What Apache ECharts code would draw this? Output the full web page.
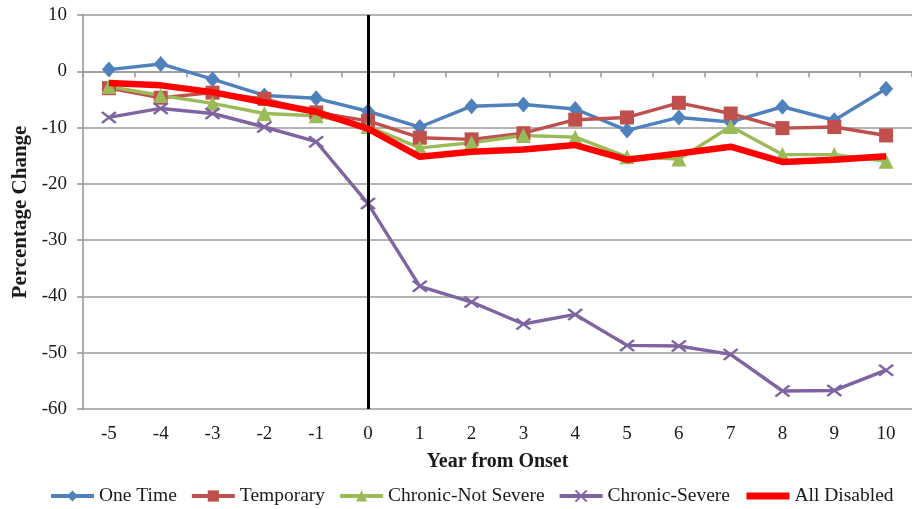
<!DOCTYPE html>
<html>
<head>
<meta charset="utf-8">
<script src="https://cdn.jsdelivr.net/npm/echarts@6/dist/echarts.min.js"></script>
<style>
  html, body { margin: 0; padding: 0; background: #fff; }
  #chart { width: 912px; height: 509px; }
</style>
</head>
<body>
<div id="chart"></div>
<script>
// Years relative to disability onset
const years = ['-5', '-4', '-3', '-2', '-1', '0', '1', '2', '3', '4', '5', '6', '7', '8', '9', '10'];

// Percentage change by disability type
const oneTime        = [0.3, 1.3, -1.4, -4.3, -4.8, -7.1, -9.9, -6.2, -5.9, -6.7, -10.5, -8.2, -9.0, -6.3, -8.7, -3.1];
const temporary      = [-3.0, -4.7, -3.8, -4.9, -7.3, -8.8, -11.8, -12.1, -11.0, -8.6, -8.2, -5.6, -7.5, -10.1, -9.9, -11.4];
const chronicNotSev  = [-2.7, -4.3, -5.7, -7.5, -7.9, -9.8, -13.6, -12.7, -11.4, -11.7, -15.2, -15.6, -9.8, -14.8, -14.8, -16.0];
const chronicSevere  = [-8.2, -6.6, -7.5, -9.9, -12.5, -23.5, -38.2, -41.0, -44.9, -43.2, -48.7, -48.8, -50.3, -56.8, -56.7, -53.1];
const allDisabled    = [-2.1, -2.5, -3.7, -5.5, -7.2, -10.2, -15.2, -14.3, -13.9, -13.1, -15.7, -14.6, -13.4, -16.1, -15.7, -15.1];

const seriesNames = ['One Time', 'Temporary', 'Chronic-Not Severe', 'Chronic-Severe', 'All Disabled'];
const onsetYear = '0';

const FONT = '"Liberation Serif", "Times New Roman", serif';
const GRID_GRAY = '#9a9a9a';

const crossPath = 'path://M0,0L10,8M10,0L0,8';

function lineSeries(name, data, color, symbol, size, extra) {
  return Object.assign({
    name: name,
    type: 'line',
    data: data,
    symbol: symbol,
    symbolSize: size,
    lineStyle: { color: color, width: 3.4 },
    itemStyle: { color: color },
    emphasis: { disabled: true }
  }, extra || {});
}

const chart = echarts.init(document.getElementById('chart'), null, { renderer: 'canvas' });

chart.setOption({
  animation: false,
  backgroundColor: '#fff',
  grid: { left: 83, right: -6, top: 15, bottom: 100, containLabel: false },
  xAxis: [
    {
      type: 'category',
      data: years,
      position: 'bottom',
      boundaryGap: true,
      axisLine: { show: false, onZero: false },
      axisTick: { show: false },
      axisLabel: { fontFamily: FONT, fontSize: 19, color: '#1a1a1a', margin: 16, interval: 0 },
      name: 'Year from Onset',
      nameLocation: 'middle',
      nameGap: 43,
      nameTextStyle: { fontFamily: FONT, fontSize: 20, fontWeight: 'bold', color: '#1a1a1a' }
    },
    {
      type: 'category',
      data: years,
      position: 'bottom',
      boundaryGap: true,
      axisLine: { show: true, onZero: true, lineStyle: { color: GRID_GRAY, width: 1.6 } },
      axisTick: { show: true, length: 6, interval: 0, lineStyle: { color: GRID_GRAY, width: 1.6 } },
      axisLabel: { show: false }
    }
  ],
  yAxis: {
    type: 'value',
    min: -60,
    max: 10,
    interval: 10,
    axisLine: { show: true, onZero: false, lineStyle: { color: GRID_GRAY, width: 1.6 } },
    axisTick: { show: true, length: 6, lineStyle: { color: GRID_GRAY, width: 1.6 } },
    axisLabel: { fontFamily: FONT, fontSize: 19, color: '#1a1a1a', margin: 16 },
    splitLine: { show: true, lineStyle: { color: GRID_GRAY, width: 1.6 } },
    name: 'Percentage Change',
    nameLocation: 'middle',
    nameGap: 42,
    nameTextStyle: { fontFamily: FONT, fontSize: 21, fontWeight: 'bold', color: '#1a1a1a' }
  },
  legend: {
    data: [
      { name: seriesNames[0] },
      { name: seriesNames[1] },
      { name: seriesNames[2] },
      { name: seriesNames[3] },
      {
        name: seriesNames[4],
        lineStyle: { width: 7 },
        itemStyle: { color: 'rgba(0,0,0,0)', borderWidth: 0 }
      }
    ],
    left: 44,
    top: 481,
    width: 880,
    itemWidth: 43,
    itemHeight: 14,
    itemGap: 13,
    lineStyle: { width: 4 },
    textStyle: { fontFamily: FONT, fontSize: 19.5, color: '#1a1a1a' },
    selectedMode: false
  },
  series: [
    lineSeries(seriesNames[0], oneTime, '#4F81BD', 'diamond', [14, 16]),
    lineSeries(seriesNames[1], temporary, '#C0504D', 'rect', 14),
    lineSeries(seriesNames[2], chronicNotSev, '#9BBB59', 'triangle', 15),
    lineSeries(seriesNames[3], chronicSevere, '#8064A2', crossPath, [14, 11], {
      itemStyle: { color: 'rgba(0,0,0,0)', borderColor: '#8064A2', borderWidth: 2.4 }
    }),
    lineSeries(seriesNames[4], allDisabled, '#FF0000', 'none', 0, {
      showSymbol: false,
      lineStyle: { color: '#FF0000', width: 6.5 },
      z: 5
    }),
    {
      // vertical marker at year of onset
      name: 'onset',
      type: 'line',
      data: [],
      z: 6,
      markLine: {
        silent: true,
        symbol: 'none',
        label: { show: false },
        lineStyle: { color: '#000', width: 3, type: 'solid' },
        data: [{ xAxis: years.indexOf(onsetYear) }]
      }
    }
  ]
});
</script>
</body>
</html>
